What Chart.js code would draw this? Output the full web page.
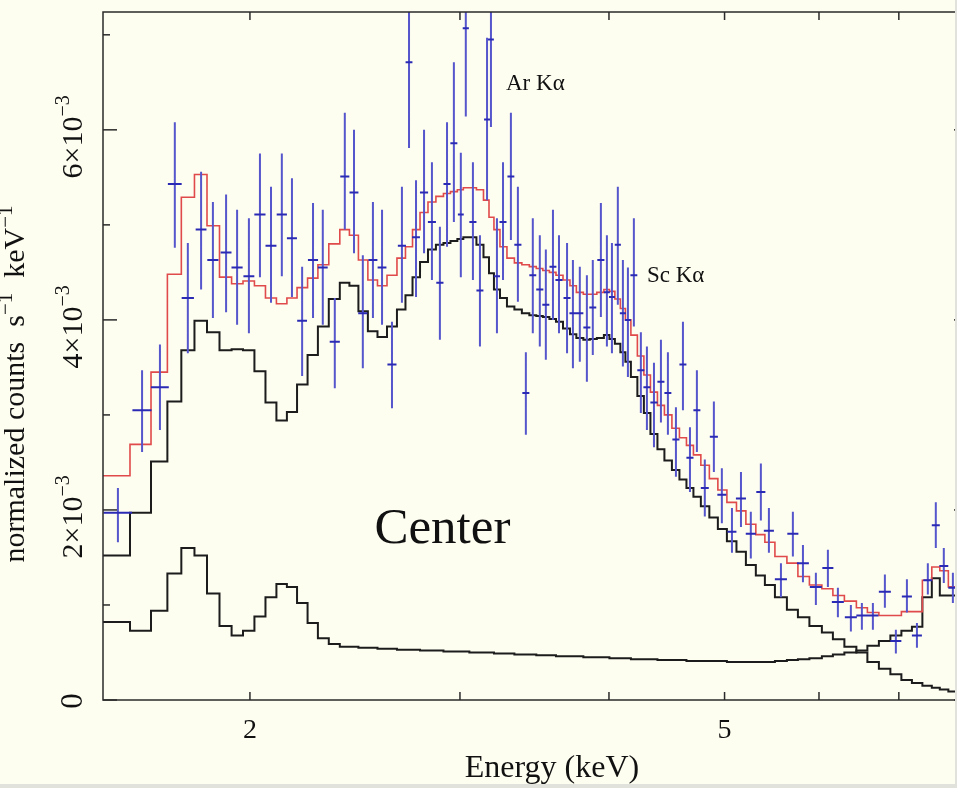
<!DOCTYPE html>
<html>
<head>
<meta charset="utf-8">
<script src="https://cdn.jsdelivr.net/npm/chart.js"></script>
<style>
  html, body { margin: 0; padding: 0; background: #fdfdf0; overflow: hidden; }
  #wrap { width: 980px; height: 788px; }
</style>
</head>
<body>
<div id="wrap"><canvas id="spec" width="980" height="788"></canvas></div>
<script>
// Spectrum "Center": energy in keV, counts in units of 1e-3 counts s^-1 keV^-1

const energy = [
  1.550, 1.624, 1.681, 1.730, 1.774, 1.820, 1.862, 1.910, 1.951, 1.996,
  2.039, 2.083, 2.127, 2.169, 2.212, 2.259, 2.302, 2.356, 2.402, 2.445,
  2.487, 2.536, 2.581, 2.631, 2.682, 2.719, 2.756, 2.799, 2.842, 2.886,
  2.926, 2.965, 3.005, 3.034, 3.076, 3.118, 3.161, 3.185, 3.222, 3.260,
  3.310, 3.355, 3.407, 3.453, 3.500, 3.541, 3.590, 3.632, 3.689, 3.731,
  3.781, 3.833, 3.877, 3.938, 3.984, 4.023, 4.069, 4.109, 4.149, 4.197,
  4.254, 4.304, 4.363, 4.422, 4.482, 4.552, 4.614, 4.677, 4.740, 4.813,
  4.898, 4.974, 5.072, 5.161, 5.260, 5.363, 5.447, 5.575, 5.705, 5.817,
  5.964, 6.104, 6.223, 6.381, 6.518, 6.658, 6.814, 6.960, 7.110, 7.249,
  7.403, 7.518, 7.635, 7.770
];

// half width of each energy bin (keV)
const energyErr = [
  0.043, 0.030, 0.029, 0.023, 0.021, 0.019, 0.020, 0.020, 0.021, 0.021,
  0.022, 0.022, 0.021, 0.021, 0.021, 0.022, 0.022, 0.023, 0.021, 0.021,
  0.022, 0.022, 0.022, 0.023, 0.021, 0.018, 0.021, 0.022, 0.022, 0.020,
  0.020, 0.020, 0.017, 0.018, 0.021, 0.021, 0.018, 0.018, 0.019, 0.022,
  0.022, 0.023, 0.023, 0.023, 0.024, 0.024, 0.024, 0.025, 0.025, 0.025,
  0.026, 0.026, 0.026, 0.027, 0.023, 0.023, 0.024, 0.024, 0.024, 0.028,
  0.029, 0.029, 0.030, 0.030, 0.030, 0.031, 0.031, 0.032, 0.032, 0.037,
  0.038, 0.043, 0.044, 0.050, 0.051, 0.047, 0.053, 0.065, 0.061, 0.067,
  0.069, 0.065, 0.072, 0.074, 0.069, 0.071, 0.079, 0.074, 0.069, 0.070,
  0.064, 0.058, 0.066, 0.068
];

const counts = [
  1.97, 3.05, 3.29, 5.43, 4.23, 4.95, 4.63, 4.71, 4.55, 4.46,
  5.11, 4.78, 5.11, 4.86, 3.99, 4.63, 4.55, 3.77, 5.51, 5.34,
  4.07, 4.63, 4.55, 3.53, 4.78, 6.71, 4.87, 5.34, 5.03, 4.39,
  5.43, 5.86, 5.11, 7.07, 5.03, 4.31, 6.11, 6.95, 4.46, 5.03,
  5.51, 4.79, 3.23, 4.47, 4.32, 4.16, 4.56, 4.42, 4.23, 4.07,
  4.07, 3.92, 4.13, 4.63, 4.29, 4.24, 4.79, 4.07, 4.00, 4.47,
  3.47, 3.29, 3.13, 3.35, 3.23, 2.74, 3.53, 2.55, 3.05, 2.23,
  2.77, 2.16, 1.77, 2.12, 1.75, 2.19, 1.78, 1.27, 1.75, 1.44,
  1.19, 1.39, 1.03, 0.87, 0.89, 0.89, 1.14, 0.62, 1.09, 0.68,
  1.26, 1.84, 1.41, 1.18
];

const countsHi = [
  2.23, 3.47, 3.74, 6.08, 4.81, 5.56, 5.24, 5.32, 5.16, 5.07,
  5.75, 5.40, 5.75, 5.49, 4.56, 5.23, 5.16, 4.23, 6.18, 6.00,
  4.68, 5.24, 5.16, 3.98, 5.40, 7.60, 5.47, 6.00, 5.66, 4.98,
  6.08, 6.71, 5.76, 8.00, 5.66, 4.89, 6.97, 7.90, 5.07, 5.66,
  6.18, 5.40, 3.66, 5.07, 4.89, 4.74, 5.16, 4.89, 4.81, 4.63,
  4.56, 4.47, 4.63, 5.23, 4.89, 4.81, 5.40, 4.63, 4.55, 5.07,
  3.87, 3.72, 3.55, 3.79, 3.66, 3.08, 3.98, 2.87, 3.47, 2.53,
  3.14, 2.44, 2.02, 2.40, 1.98, 2.49, 2.02, 1.44, 1.98, 1.63,
  1.34, 1.58, 1.18, 1.00, 1.02, 1.02, 1.32, 0.74, 1.27, 0.81,
  1.44, 2.08, 1.60, 1.34
];

const countsLo = [
  1.66, 2.61, 2.84, 4.76, 3.65, 4.32, 4.02, 4.08, 3.95, 3.86,
  4.45, 4.18, 4.46, 4.24, 3.41, 4.02, 3.95, 3.28, 4.95, 4.70,
  3.49, 4.02, 3.95, 3.07, 4.18, 5.81, 4.24, 4.70, 4.42, 3.79,
  4.77, 5.03, 4.45, 6.14, 4.42, 3.72, 5.26, 6.03, 3.86, 4.42,
  4.84, 4.19, 2.79, 3.86, 3.72, 3.58, 4.00, 3.86, 3.65, 3.49,
  3.56, 3.35, 3.63, 4.03, 3.72, 3.65, 4.16, 3.51, 3.40, 3.93,
  3.02, 2.84, 2.66, 2.92, 2.79, 2.35, 3.05, 2.19, 2.61, 1.93,
  2.40, 1.86, 1.55, 1.82, 1.49, 1.89, 1.55, 1.08, 1.51, 1.24,
  1.00, 1.19, 0.87, 0.72, 0.74, 0.74, 0.97, 0.49, 0.92, 0.55,
  1.11, 1.60, 1.23, 1.02
];

// folded model, per energy bin
const modelTotal = [
  2.36, 2.69, 3.45, 4.48, 5.29, 5.53, 4.99, 4.45, 4.38, 4.41,
  4.36, 4.23, 4.17, 4.23, 4.34, 4.44, 4.58, 4.80, 4.95, 4.89,
  4.63, 4.42, 4.36, 4.47, 4.65, 4.77, 4.95, 5.13, 5.24, 5.30,
  5.33, 5.35, 5.37, 5.39, 5.39, 5.37, 5.26, 5.08, 4.95, 4.77,
  4.65, 4.60, 4.58, 4.56, 4.54, 4.52, 4.50, 4.47, 4.42, 4.36,
  4.29, 4.27, 4.27, 4.29, 4.32, 4.30, 4.22, 4.12, 4.00, 3.84,
  3.62, 3.42, 3.24, 3.10, 3.00, 2.86, 2.76, 2.68, 2.58, 2.47,
  2.33, 2.21, 2.08, 1.99, 1.85, 1.74, 1.66, 1.51, 1.44, 1.30,
  1.21, 1.17, 1.10, 1.04, 0.97, 0.92, 0.89, 0.89, 0.93, 0.93,
  1.26, 1.40, 1.36, 1.19
];

const modelComp1 = [
  1.52, 1.97, 2.51, 3.14, 3.68, 3.99, 3.87, 3.68, 3.69, 3.68,
  3.46, 3.13, 2.94, 3.03, 3.32, 3.63, 3.93, 4.22, 4.39, 4.36,
  4.09, 3.88, 3.82, 3.93, 4.11, 4.26, 4.45, 4.61, 4.74, 4.79,
  4.81, 4.83, 4.85, 4.87, 4.87, 4.79, 4.66, 4.49, 4.32, 4.23,
  4.14, 4.11, 4.07, 4.05, 4.04, 4.03, 4.01, 3.98, 3.91, 3.85,
  3.81, 3.79, 3.80, 3.81, 3.84, 3.80, 3.75, 3.66, 3.56, 3.40,
  3.20, 3.02, 2.80, 2.64, 2.52, 2.42, 2.32, 2.23, 2.14, 2.04,
  1.92, 1.80, 1.67, 1.56, 1.42, 1.31, 1.21, 1.08, 0.95, 0.87,
  0.78, 0.71, 0.64, 0.56, 0.50, 0.40, 0.33, 0.27, 0.21, 0.18,
  0.15, 0.13, 0.11, 0.09
];

const modelComp2 = [
  0.82, 0.73, 0.94, 1.33, 1.60, 1.52, 1.12, 0.78, 0.68, 0.73,
  0.88, 1.08, 1.22, 1.19, 1.02, 0.81, 0.65, 0.59, 0.56, 0.56,
  0.55, 0.55, 0.54, 0.54, 0.53, 0.53, 0.53, 0.52, 0.52, 0.52,
  0.51, 0.51, 0.51, 0.51, 0.50, 0.50, 0.50, 0.50, 0.49, 0.49,
  0.49, 0.48, 0.48, 0.48, 0.47, 0.47, 0.47, 0.46, 0.46, 0.46,
  0.46, 0.45, 0.45, 0.45, 0.45, 0.44, 0.44, 0.44, 0.44, 0.43,
  0.43, 0.43, 0.43, 0.42, 0.42, 0.42, 0.42, 0.41, 0.41, 0.41,
  0.41, 0.41, 0.40, 0.40, 0.40, 0.40, 0.40, 0.41, 0.42, 0.43,
  0.44, 0.46, 0.48, 0.50, 0.52, 0.57, 0.62, 0.68, 0.73, 0.77,
  1.08, 1.28, 1.10, 1.10
];

const xTicks = [2, 3, 4, 5, 6, 7];
const xTickLabels = ['2', '', '', '5', '', ''];
const yTicks = [0, 1, 2, 3, 4, 5, 6, 7];
const yTickLabels = ['0', '', '2×10', '', '4×10', '', '6×10', ''];

const lineLabels = [
  { text: 'Ar Kα', e: 3.47, v: 6.42 },
  { text: 'Sc Kα', e: 4.55, v: 4.40 }
];

const X_MIN = 1.506;
const X_MAX = 8.0;
const Y_MAX = 7.24;

const SERIF = "'Liberation Serif', 'Times New Roman', serif";

// draws text made of [string, size, rise] pieces, centred on (x, y)
function drawRich(ctx, parts, x, y, rotate) {
    ctx.save();
    ctx.translate(x, y);
    if (rotate) ctx.rotate(-Math.PI / 2);
    ctx.textAlign = 'left';
    ctx.textBaseline = 'alphabetic';
    let total = 0;
    parts.forEach(p => {
        ctx.font = p[1] + 'px ' + SERIF;
        total += ctx.measureText(p[0]).width;
    });
    let cx = -total / 2;
    parts.forEach(p => {
        ctx.font = p[1] + 'px ' + SERIF;
        ctx.fillText(p[0], cx, -(p[2] || 0));
        cx += ctx.measureText(p[0]).width;
    });
    ctx.restore();
}

function segment(ctx, x1, y1, x2, y2) {
    ctx.beginPath();
    ctx.moveTo(x1, y1);
    ctx.lineTo(x2, y2);
    ctx.stroke();
}

const framePlugin = {
    id: 'frame',
    beforeDraw(chart) {
        const ctx = chart.ctx;
        ctx.save();
        ctx.fillStyle = '#fdfdf0';
        ctx.fillRect(0, 0, chart.width, chart.height);
        ctx.restore();
    },
    afterDraw(chart) {
        const { ctx, chartArea: a, scales: { x, y } } = chart;
        ctx.save();
        ctx.strokeStyle = '#2a2a2a';
        ctx.lineWidth = 1.5;
        ctx.strokeRect(a.left, a.top, a.right - a.left, a.bottom - a.top);

        // inward tick marks
        xTicks.forEach(v => {
            const px = x.getPixelForValue(v);
            segment(ctx, px, a.bottom, px, a.bottom - 8);
            segment(ctx, px, a.top, px, a.top + 8);
        });
        yTicks.forEach(v => {
            const py = y.getPixelForValue(v);
            const len = v % 2 === 0 ? 14 : 7;
            segment(ctx, a.left, py, a.left + len, py);
            segment(ctx, a.right, py, a.right - len, py);
        });

        ctx.fillStyle = '#111';
        xTicks.forEach((v, i) => {
            if (!xTickLabels[i]) return;
            drawRich(ctx, [[xTickLabels[i], 28]], x.getPixelForValue(v), 738, false);
        });
        yTicks.forEach((v, i) => {
            const lab = yTickLabels[i];
            if (!lab) return;
            const py = y.getPixelForValue(v);
            if (lab === '0') drawRich(ctx, [['0', 31]], 82, py + 1, true);
            else drawRich(ctx, [[lab, 30], ['−3', 20, 13]], 82, py + 7, true);
        });

        // axis titles
        drawRich(ctx, [['Energy (keV)', 32]], 552, 777, false);
        drawRich(ctx, [
            ['normalized counts  s', 30], ['−1', 21, 12],
            ['  keV', 30], ['−1', 21, 12]
        ], 24, 384, true);

        // line labels and panel name
        lineLabels.forEach(l => {
            drawRich(ctx, [[l.text, 23]], x.getPixelForValue(l.e), y.getPixelForValue(l.v), false);
        });
        drawRich(ctx, [['Center', 51]], x.getPixelForValue(2.90), y.getPixelForValue(1.65), false);

        // picture border
        ctx.fillStyle = '#e2e2dc';
        ctx.fillRect(0, 784, chart.width, 4);
        ctx.fillRect(955, 0, chart.width - 955, chart.height);
        ctx.restore();
    }
};

function stepData(model) {
    const pts = [{ x: X_MIN, y: model[0] }];
    energy.forEach((e, i) => pts.push({ x: e, y: model[i] }));
    pts.push({ x: X_MAX, y: model[model.length - 1] });
    return pts;
}

const errV = [];
const errH = [];
energy.forEach((e, i) => {
    errV.push({ x: e, y: countsLo[i] }, { x: e, y: countsHi[i] }, { x: e, y: null });
    errH.push({ x: e - energyErr[i], y: counts[i] }, { x: e + energyErr[i], y: counts[i] }, { x: e, y: null });
});

const ctx = document.getElementById('spec').getContext('2d');
new Chart(ctx, {
    type: 'line',
    data: {
        datasets: [
            { data: errH, borderColor: '#2a2ab4', borderWidth: 2, spanGaps: false },
            { data: errV, borderColor: '#5656cc', borderWidth: 2, spanGaps: false },
            { data: stepData(modelTotal), borderColor: '#e04a4a', borderWidth: 1.6, stepped: 'middle' },
            { data: stepData(modelComp1), borderColor: '#1c1c1c', borderWidth: 2, stepped: 'middle' },
            { data: stepData(modelComp2), borderColor: '#1c1c1c', borderWidth: 2, stepped: 'middle' }
        ]
    },
    options: {
        responsive: false,
        animation: false,
        devicePixelRatio: 1,
        layout: { padding: { left: 103, top: 12, right: 12, bottom: 88 } },
        elements: { point: { radius: 0 }, line: { tension: 0 } },
        plugins: { legend: { display: false }, tooltip: { enabled: false } },
        scales: {
            x: { type: 'logarithmic', min: X_MIN, max: X_MAX, display: false },
            y: { type: 'linear', min: 0, max: Y_MAX, display: false }
        }
    },
    plugins: [framePlugin]
});
</script>
</body>
</html>
